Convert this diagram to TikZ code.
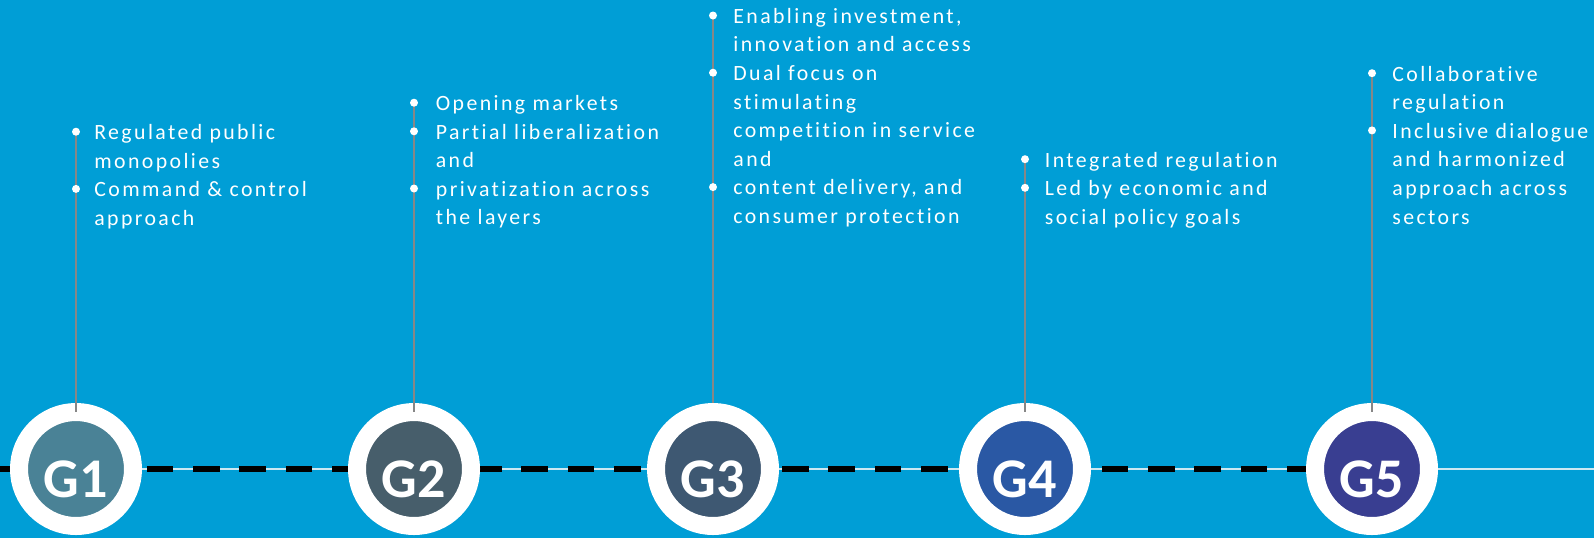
\documentclass[tikz,border=0pt]{standalone}
\usepackage{fontspec}
\setmainfont{Carlito}
\newfontfamily\notefont[LetterSpace=11,Ligatures={NoCommon,NoContextual}]{Carlito}
\usetikzlibrary{positioning}

\definecolor{bgblue}{RGB}{0,158,214}
\definecolor{gone}{RGB}{74,130,150}
\definecolor{gtwo}{RGB}{71,94,107}
\definecolor{gthree}{RGB}{62,88,114}
\definecolor{gfour}{RGB}{42,88,164}
\definecolor{gfive}{RGB}{57,62,145}
\definecolor{stemgray}{RGB}{135,135,135}
\definecolor{railcol}{RGB}{205,232,242}

\pgfdeclarelayer{background}
\pgfdeclarelayer{front}
\pgfsetlayers{background,main,front}

\tikzset{
  gen/.style={circle, draw=white, line width=9pt, minimum size=57pt, inner sep=0pt, outer sep=0pt,
    text=white, font=\fontsize{28}{28}\selectfont\bfseries, text height=28pt, text depth=0pt},
  dot/.style={circle, fill=white, inner sep=0pt, minimum size=4pt},
  stem/.style={draw=stemgray, line width=1pt},
  notes/.style={anchor=base west, align=left, text=white, inner sep=0pt,
    font=\notefont\fontsize{10.9}{14.3}\selectfont},
  dashline/.style={line width=3.3pt, dash pattern=on 13.35pt off 9.8pt},
  rail/.style={draw=railcol, line width=1pt}
}

\begin{document}
\begin{tikzpicture}[x=0.5pt,y=-0.5pt]
\useasboundingbox (0,0) rectangle (1594,538);

% generations
\node[gen, fill=gone] (g1) at (76,469) {G1};
\node[gen, fill=gtwo] (g2) at (414,469) {G2};
\node[gen, fill=gthree] (g3) at (713,469) {G3};
\node[gen, fill=gfour] (g4) at (1025,469) {G4};
\node[gen, fill=gfive] (g5) at (1372,469) {G5};

% notes above each generation (anchored at the last line)
\node[notes] (n1) at (94,225.3) {Regulated public\\monopolies\\Command \& control\\approach};
\node[notes] (n2) at (435.5,224.9) {Opening markets\\Partial liberalization\\and\\privatization across\\the layers};
\node[notes] (n3) at (733,223.5) {Enabling investment,\\innovation and access\\Dual focus on\\stimulating\\competition in service\\and\\content delivery, and\\consumer protection};
\node[notes] (n4) at (1044.5,224.2) {Integrated regulation\\Led by economic and\\social policy goals};
\node[notes] (n5) at (1392,224) {Collaborative\\regulation\\Inclusive dialogue\\and harmonized\\approach across\\sectors};

% bullets
\begin{pgfonlayer}{front}
\node[dot] (b1a) at (76,131.7) {};
\node[dot] (b1b) at (76,188.9) {};
\node[dot] (b2a) at (414,102.7) {};
\node[dot] (b2b) at (414,131.3) {};
\node[dot] (b2c) at (414,188.5) {};
\node[dot] (b3a) at (713,15.5) {};
\node[dot] (b3b) at (713,72.7) {};
\node[dot] (b3c) at (713,187.1) {};
\node[dot] (b4a) at (1025,159.2) {};
\node[dot] (b4b) at (1025,187.8) {};
\node[dot] (b5a) at (1372,73.2) {};
\node[dot] (b5b) at (1372,130.4) {};
\end{pgfonlayer}

% stems
\draw[stem] (b1a.center) -- (g1.north);
\draw[stem] (b2a.center) -- (g2.north);
\draw[stem] (b3a.center) -- ([yshift=4.5pt]g3.north);
\draw[stem] (b4a.center) -- (g4.north);
\draw[stem] (b5a.center) -- (g5.north);

% time line
\begin{pgfonlayer}{background}
\fill[bgblue] (0,0) rectangle (1594,538);
\coordinate (lend) at (0,469);
\coordinate (rend) at (1594,469);
\draw[rail] (lend) -- (rend);
\draw[dashline] (lend) -- (g1);
\draw[dashline] (g1.center) ++(70.7,0) -- (g2);
\draw[dashline] (g2.center) ++(61,0) -- (g3);
\draw[dashline] (g3.center) ++(69,0) -- (g4);
\draw[dashline] (g4.center) ++(76.7,0) -- (g5);
\end{pgfonlayer}
\end{tikzpicture}
\end{document}
